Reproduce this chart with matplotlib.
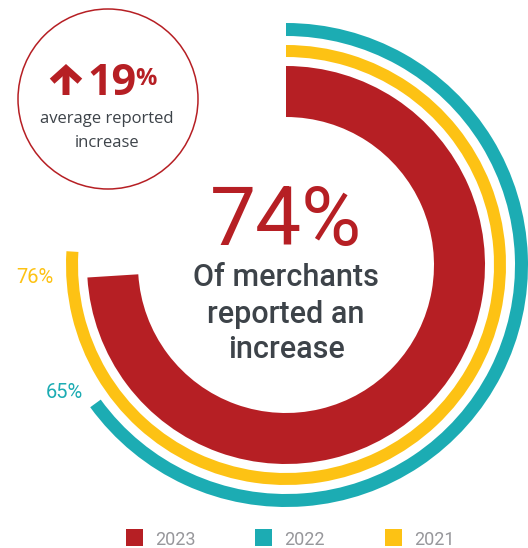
import matplotlib.pyplot as plt
from matplotlib.patches import Circle, Rectangle

# share of merchants reporting an increase, per year
years = ['2023', '2022', '2021']
shares = [74, 65, 76]
colors = ['#B61F24', '#1CACB3', '#FDC214']
avg_increase = 19

W, H = 528, 548
fig = plt.figure(figsize=(W / 100, H / 100), dpi=100)
ax = fig.add_axes([0, 0, 1, 1])

cx, cy = 286, H - 265
# ring geometry: (outer radius, band width) for 2023, 2022, 2021
rings = {'2023': (199, 51), '2022': (242, 13), '2021': (220, 12)}

for year, share, col in zip(years, shares, colors):
    r, w = rings[year]
    ax.pie([share, 100 - share], radius=r, center=(cx, cy), startangle=90,
           counterclock=False, colors=[col, 'none'],
           wedgeprops=dict(width=w, linewidth=0))

ax.set_xlim(0, W)
ax.set_ylim(0, H)
ax.set_aspect('equal')
ax.axis('off')

# labels for the two outer rings
ax.text(35, H - 283, f'{shares[2]}%', color=colors[2], fontsize=14.5,
        family='Roboto', ha='center', va='baseline')
ax.text(64, H - 398, f'{shares[1]}%', color=colors[1], fontsize=14.5,
        family='Roboto', ha='center', va='baseline')

# centre text
ax.text(cx, H - 245, f'{shares[0]}%', color=colors[0], fontsize=59,
        family='Roboto', ha='center', va='baseline')
dark = '#3D4349'
for txt, base in [('Of merchants', 286), ('reported an', 323), ('increase', 358)]:
    ax.text(cx, H - base, txt, color=dark, fontsize=22, family='Roboto',
            fontweight='medium', ha='center', va='baseline')

# badge in the top-left corner
ax.add_patch(Circle((108, H - 99), 90, fill=False, edgecolor=colors[0], lw=1.1))
ax.annotate('', xy=(66, H - 64), xytext=(66, H - 95),
            arrowprops=dict(arrowstyle='->,head_length=0.45,head_width=0.5',
                            color=colors[0], lw=5, mutation_scale=20,
                            shrinkA=0, shrinkB=0, capstyle='butt',
                            joinstyle='miter'))
ax.text(87, H - 95, f'{avg_increase}', color=colors[0], fontsize=31,
        family='Open Sans', fontweight='bold', ha='left', va='baseline')
ax.text(135, H - 85, '%', color=colors[0], fontsize=17,
        family='Open Sans', fontweight='bold', ha='left', va='baseline')
ax.text(107, H - 123, 'average reported', color=dark, fontsize=12,
        family='Open Sans', ha='center', va='baseline')
ax.text(107, H - 147, 'increase', color=dark, fontsize=12,
        family='Open Sans', ha='center', va='baseline')

# legend
legend_x = [126, 255, 385]
for year, col, x0 in zip(years, colors, legend_x):
    ax.add_patch(Rectangle((x0, H - 546), 17, 17, color=col, lw=0))
    ax.text(x0 + 29, H - 545, year, color='#97979B', fontsize=13,
            family='Roboto', ha='left', va='baseline')

fig.savefig('out.png', dpi=100)
